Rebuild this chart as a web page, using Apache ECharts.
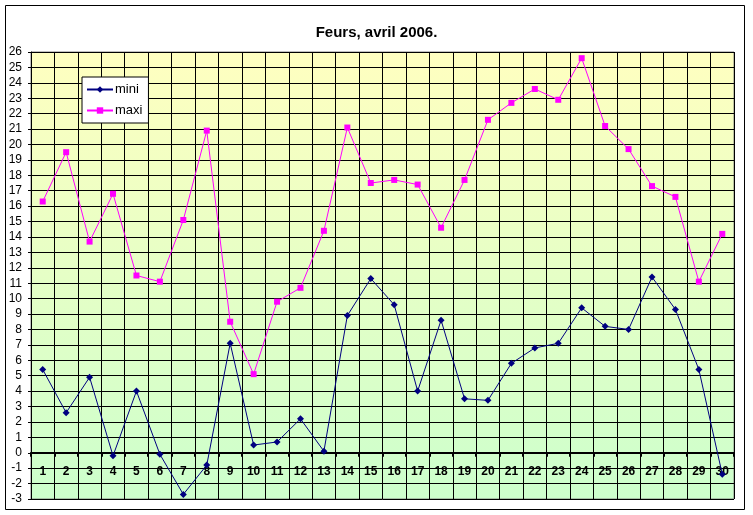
<!DOCTYPE html>
<html>
<head>
<meta charset="utf-8">
<script src="https://cdn.jsdelivr.net/npm/echarts@6/dist/echarts.min.js"></script>
<style>
html,body{margin:0;padding:0;background:#fff;}
#c{width:753px;height:515px;}
</style>
</head>
<body>
<div id="c"></div>
<script>
var days = ['1','2','3','4','5','6','7','8','9','10','11','12','13','14','15','16','17','18','19','20','21','22','23','24','25','26','27','28','29','30'];
var mini = [5.4,2.6,4.9,-0.2,4.0,-0.1,-2.7,-0.8,7.1,0.5,0.7,2.2,0.1,8.9,11.3,9.6,4.0,8.6,3.5,3.4,5.8,6.8,7.1,9.4,8.2,8.0,11.4,9.3,5.4,-1.4];
var maxi = [16.3,19.5,13.7,16.8,11.5,11.1,15.1,20.9,8.5,5.1,9.8,10.7,14.4,21.1,17.5,17.7,17.4,14.6,17.7,21.6,22.7,23.6,22.9,25.6,21.2,19.7,17.3,16.6,11.1,14.2];
var yMin = -3, yMax = 26, yStep = 1;

var font = 'Liberation Sans, Arial, sans-serif';
var chart = echarts.init(document.getElementById('c'));
chart.setOption({
  animation: false,
  backgroundColor: '#ffffff',
  title: {
    text: 'Feurs, avril 2006.',
    left: 'center',
    top: 20,
    textStyle: {fontFamily: font, fontSize: 15, fontWeight: 'bold', color: '#000'}
  },
  graphic: [{
    type: 'rect',
    shape: {x: 5.5, y: 5.5, width: 739, height: 504},
    style: {fill: 'none', stroke: '#000', lineWidth: 1},
    z: -10
  }],
  legend: {
    orient: 'vertical',
    left: 82,
    top: 77,
    width: 64,
    padding: [6, 6, 6, 4],
    itemGap: 8,
    itemWidth: 26,
    itemHeight: 8,
    backgroundColor: '#ffffff',
    borderColor: '#000',
    borderWidth: 1,
    textStyle: {fontFamily: font, fontSize: 13, color: '#000', padding: [0,0,0,-3]},
    data: ['mini', 'maxi']
  },
  grid: {
    left: 31, right: 19, top: 52, bottom: 16,
    outerBoundsMode: 'none',
    containLabel: false,
    show: true,
    borderColor: '#808080',
    borderWidth: 1,
    backgroundColor: new echarts.graphic.LinearGradient(0, 0, 0, 1, [
      {offset: 0, color: '#ffffc0'},
      {offset: 1, color: '#ccffcc'}
    ])
  },
  xAxis: {
    type: 'category',
    data: days,
    boundaryGap: true,
    axisLine: {onZero: true, onZeroAxisIndex: 0, lineStyle: {color: '#000', width: 2}},
    axisTick: {show: true, length: 4, inside: false, lineStyle: {color: '#000', width: 2}},
    axisLabel: {fontFamily: font, fontSize: 12, fontWeight: 'bold', color: '#000', margin: -33, interval: 0},
    splitLine: {show: true, lineStyle: {color: '#000', width: 1}}
  },
  yAxis: {
    type: 'value',
    min: yMin, max: yMax, interval: yStep,
    axisLine: {show: true, lineStyle: {color: '#000', width: 1}},
    axisTick: {show: true, length: 3, lineStyle: {color: '#000'}},
    axisLabel: {fontFamily: font, fontSize: 12, color: '#000', margin: 9},
    splitLine: {show: true, lineStyle: {color: '#000', width: 1}}
  },
  series: [{
    name: 'mini',
    type: 'line',
    data: mini,
    symbol: 'diamond',
    symbolSize: 7,
    lineStyle: {color: '#000080', width: 1},
    itemStyle: {color: '#000080'},
    z: 5
  }, {
    name: 'maxi',
    type: 'line',
    data: maxi,
    symbol: 'rect',
    symbolSize: 6,
    lineStyle: {color: '#ff00ff', width: 1},
    itemStyle: {color: '#ff00ff'},
    z: 4
  }]
});
</script>
</body>
</html>
